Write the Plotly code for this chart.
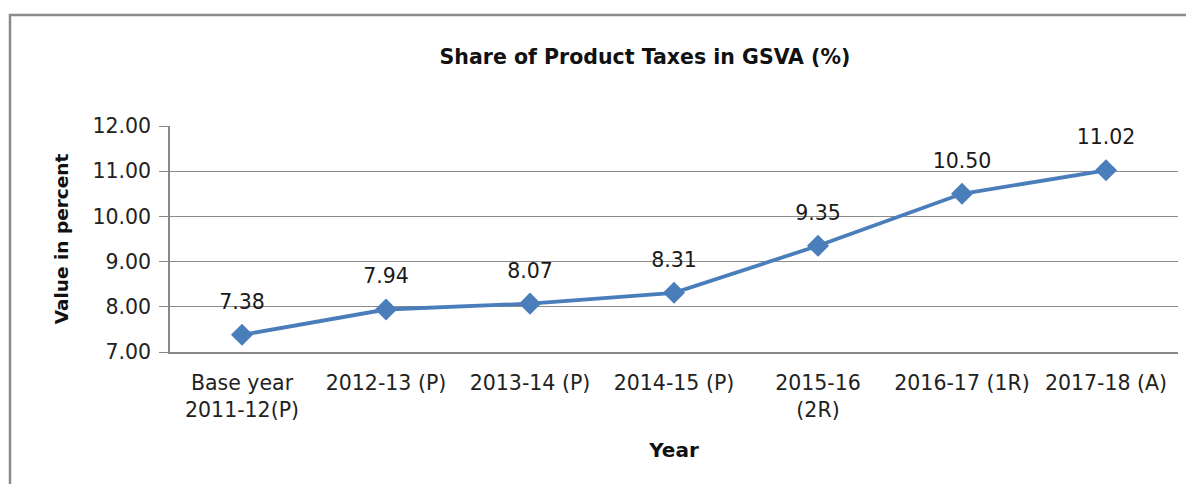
import plotly.graph_objects as go

categories = ["Base year<br>2011-12(P)", "2012-13 (P)", "2013-14 (P)", "2014-15 (P)",
              "2015-16<br>(2R)", "2016-17 (1R)", "2017-18 (A)"]
values = [7.38, 7.94, 8.07, 8.31, 9.35, 10.50, 11.02]
y_ticks = [7, 8, 9, 10, 11, 12]

FONT = "'DejaVu Sans', sans-serif"
OFF = 8  # page body offset
W, H = 1194 - OFF, 484 - OFF
L, T = 170 - OFF, 126 - OFF
R = W - (1178 - OFF)
B = H - (352 - OFF)
pw, ph = W - L - R, H - T - B

xs = list(range(len(categories)))
labels = [f"{v:.2f}" for v in values]

fig = go.Figure()
fig.add_trace(go.Scatter(
    x=xs, y=values,
    mode="lines+markers",
    line=dict(color="#4a7ebb", width=3.8),
    marker=dict(symbol="diamond", size=17, color="#4a7ebb"),
    hoverinfo="skip",
))
fig.add_trace(go.Scatter(
    x=xs, y=values,
    mode="markers+text",
    marker=dict(size=32, color="rgba(0,0,0,0)"),
    text=labels,
    textposition="top center",
    textfont=dict(family=FONT, size=20.5, color="#1a1a1a"),
    cliponaxis=False,
    hoverinfo="skip",
))

def px_x(p):
    return (p - OFF - L) / pw

def px_y(p):
    return (H - B - (p - OFF)) / ph

fig.update_layout(
    width=W, height=H,
    margin=dict(l=L, r=R, t=T, b=B),
    paper_bgcolor="white", plot_bgcolor="white",
    showlegend=False,
    title=dict(text="<b>Share of Product Taxes in GSVA (%)</b>",
               x=px_x(645), xanchor="center", xref="paper",
               y=1 - (57 - OFF) / H, yanchor="middle",
               font=dict(family=FONT, size=20.5, color="#111")),
    xaxis=dict(
        tickmode="array", tickvals=xs, ticktext=categories,
        range=[-0.5, len(categories) - 0.5],
        showgrid=False, zeroline=False,
        showline=True, linecolor="#888", linewidth=1.5,
        ticks="", tickfont=dict(family=FONT, size=20.5, color="#222"),
        ticklabelstandoff=12,
        title=dict(text="<b>Year</b>", font=dict(family=FONT, size=20, color="#111"), standoff=22),
    ),
    yaxis=dict(
        range=[7, 12], tickvals=y_ticks, ticktext=[f"{v:.2f}" for v in y_ticks],
        showgrid=True, gridcolor="#8c8c8c", gridwidth=1,
        zeroline=False, showline=True, linecolor="#888", linewidth=1.5,
        ticks="outside", ticklen=9, tickcolor="#888",
        tickfont=dict(family=FONT, size=20.5, color="#222"),
        ticklabelstandoff=4,
        title=dict(text="<b>Value in percent</b>", font=dict(family=FONT, size=18.5, color="#111"), standoff=19),
    ),
    shapes=[dict(type="rect", xref="paper", yref="paper",
                 x0=px_x(10), x1=px_x(1205), y0=px_y(495), y1=px_y(15),
                 line=dict(color="#8a8a8a", width=2.5), fillcolor="rgba(0,0,0,0)", layer="below")],
)

fig.write_html("out.html")
